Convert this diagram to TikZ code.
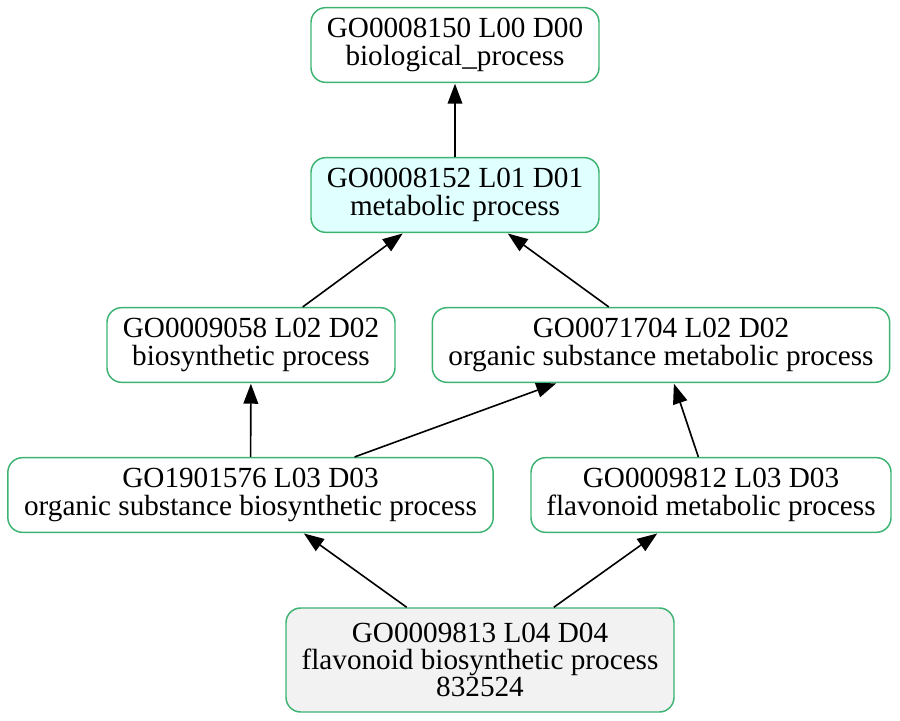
\documentclass[tikz,border=0pt]{standalone}
\usepackage{fontspec}
\setmainfont{Liberation Serif}
\usetikzlibrary{arrows.meta}
\definecolor{goline}{HTML}{3CB371}
\definecolor{gocyan}{HTML}{E0FFFF}
\definecolor{gogray}{HTML}{F2F2F2}
\newcommand\termfont{\fontsize{21.9}{20.5}\selectfont\lineskiplimit=-10pt\relax}
\begin{document}
\begin{tikzpicture}[x=0.75pt,y=-0.75pt,line join=round,
	term/.style={draw=goline,line width=1.1pt,rounded corners=11pt,align=center,inner sep=0pt,
		font=\termfont,minimum height=56pt},
	isa/.style={-{Triangle[length=15pt,width=11pt]},line width=1.2pt,shorten >=0.5pt}]
	\useasboundingbox (0,0) rectangle (900,721);
	% GO terms, one row per level
	\node[term,minimum width=216pt] (bp) at (455,45) {GO0008150 L00 D00\\biological\_process};
	\node[term,fill=gocyan,minimum width=216pt] (mp) at (455,195) {GO0008152 L01 D01\\metabolic process};
	\node[term,minimum width=216pt] (bsp) at (251,345) {GO0009058 L02 D02\\biosynthetic process};
	\node[term,minimum width=343pt] (osmp) at (661,345) {GO0071704 L02 D02\\organic substance metabolic process};
	\node[term,minimum width=364pt] (osbp) at (250.5,495) {GO1901576 L03 D03\\organic substance biosynthetic process};
	\node[term,minimum width=270pt] (fmp) at (711,495) {GO0009812 L03 D03\\flavonoid metabolic process};
	\node[term,fill=gogray,minimum width=291pt,minimum height=78pt] (fbp) at (480,660) {GO0009813 L04 D04\\flavonoid biosynthetic process\\832524};
	% is_a edges
	\draw[isa] (mp)--(bp);
	\draw[isa] (bsp)--(mp);
	\draw[isa] (osmp)--(mp);
	\draw[isa] (osbp)--(bsp);
	\draw[isa] (osbp)--(osmp);
	\draw[isa] (fmp)--(osmp);
	\draw[isa] (fbp)--(osbp);
	\draw[isa] (fbp)--(fmp);
\end{tikzpicture}
\end{document}
